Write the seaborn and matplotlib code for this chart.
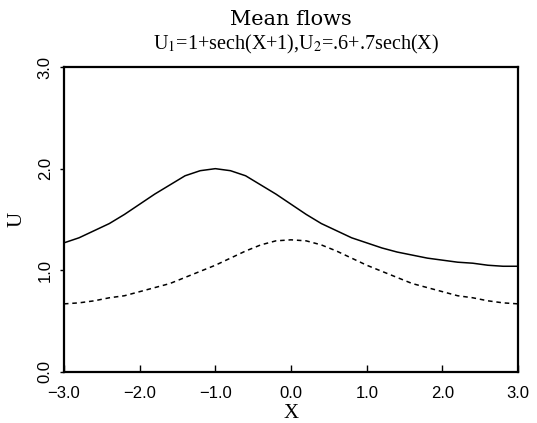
import matplotlib
matplotlib.use("Agg")
import matplotlib.pyplot as plt
import seaborn as sns
import pandas as pd

x_vals = [-3.0, -2.8, -2.6, -2.4, -2.2, -2.0, -1.8, -1.6, -1.4, -1.2, -1.0,
          -0.8, -0.6, -0.4, -0.2, 0.0, 0.2, 0.4, 0.6, 0.8, 1.0,
          1.2, 1.4, 1.6, 1.8, 2.0, 2.2, 2.4, 2.6, 2.8, 3.0]
u1_vals = [1.27, 1.32, 1.39, 1.46, 1.55, 1.65, 1.75, 1.84, 1.93, 1.98, 2.00,
           1.98, 1.93, 1.84, 1.75, 1.65, 1.55, 1.46, 1.39, 1.32, 1.27,
           1.22, 1.18, 1.15, 1.12, 1.10, 1.08, 1.07, 1.05, 1.04, 1.04]
u2_vals = [0.67, 0.68, 0.70, 0.73, 0.75, 0.79, 0.83, 0.87, 0.93, 0.99, 1.05,
           1.12, 1.19, 1.25, 1.29, 1.30, 1.29, 1.25, 1.19, 1.12, 1.05,
           0.99, 0.93, 0.87, 0.83, 0.79, 0.75, 0.73, 0.70, 0.68, 0.67]
x_ticks = [-3.0, -2.0, -1.0, 0.0, 1.0, 2.0, 3.0]
y_ticks = [0.0, 1.0, 2.0, 3.0]
title_1 = "Mean flows"
title_2 = "U$_1$=1+sech(X+1),U$_2$=.6+.7sech(X)"

sns.set_style("white")
plt.rcParams['font.family'] = ['Liberation Serif', 'DejaVu Serif']
plt.rcParams['mathtext.fontset'] = 'stix'
plt.rcParams['text.color'] = 'black'
plt.rcParams['axes.labelcolor'] = 'black'

fig = plt.figure(figsize=(5.37, 4.23), dpi=100)
ax = fig.add_axes([0.119, 0.1206, 0.846, 0.721])

df = pd.DataFrame({"X": x_vals, "U1": u1_vals, "U2": u2_vals})
sns.lineplot(data=df, x="X", y="U1", ax=ax, color="black", lw=1.1)
sns.lineplot(data=df, x="X", y="U2", ax=ax, color="black", lw=1.1, linestyle=(0, (3, 2.5)))

ax.set_xlim(-3.0, 3.0)
ax.set_ylim(0.0, 3.0)
ax.set_xticks(x_ticks)
ax.set_yticks(y_ticks)
ax.set_xticklabels([f"{v:.1f}".replace("-", "\u2212") for v in x_ticks],
                   family=['Liberation Sans', 'DejaVu Sans'], fontsize=12)
ax.set_yticklabels([f"{v:.1f}" for v in y_ticks], rotation=90, va="center",
                   family=['Liberation Sans', 'DejaVu Sans'], fontsize=12)
ax.tick_params(axis="x", bottom=True, direction="in", length=5, width=1, pad=10,
               colors="black")
ax.tick_params(axis="y", left=True, direction="out", length=3, width=1, pad=5,
               colors="black")
for s in ax.spines.values():
    s.set_linewidth(1.6)
    s.set_color("black")

ax.set_xlabel("X", fontsize=15, labelpad=2)
ax.set_ylabel("U", fontsize=15, labelpad=8)
fig.text(0.541, 0.941, title_1, ha="center", va="baseline", fontsize=15,
         family=['DejaVu Serif'])
fig.text(0.551, 0.882, title_2, ha="center", va="baseline", fontsize=14.5)

fig.savefig("out.png", dpi=100)
